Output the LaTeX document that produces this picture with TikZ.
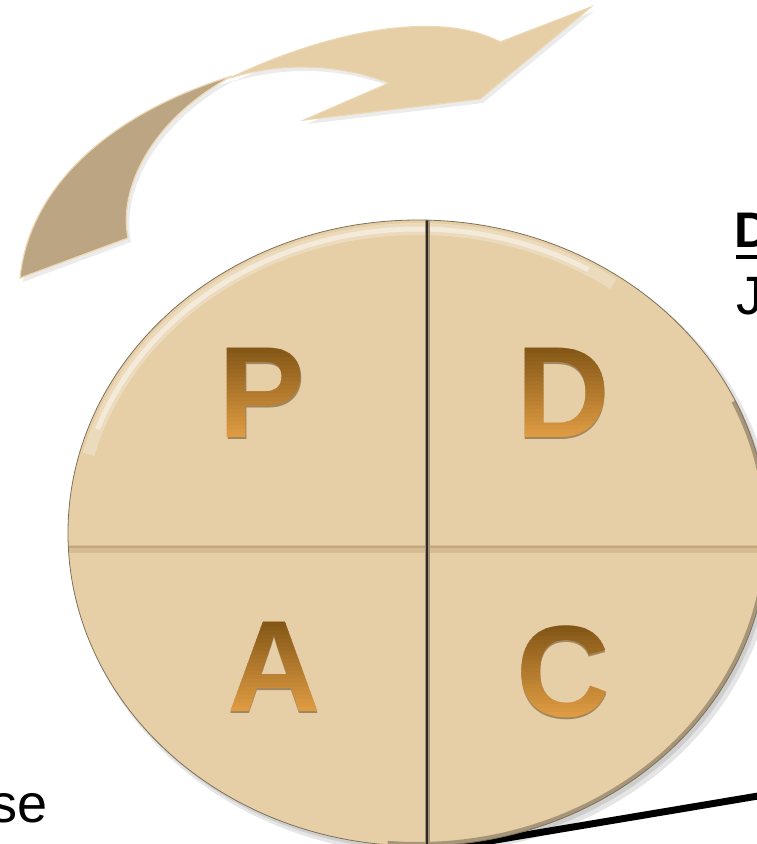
\documentclass[tikz,border=0pt]{standalone}
\usepackage{fontspec}
\setmainfont{Liberation Sans}
\usepackage{tikz}
\usetikzlibrary{calc}
\usepackage{xcolor}
\definecolor{disc}{HTML}{E6CEA6}
\definecolor{tailtan}{HTML}{BCA582}
\definecolor{rimtan}{HTML}{EBD7B2}
\definecolor{lettertop}{HTML}{7E5214}
\definecolor{letterbot}{HTML}{E6A146}
\definecolor{splitline}{HTML}{C2A67C}
\definecolor{axisline}{HTML}{2C2824}

\tikzset{
  bigletter/.style={font=\fontsize{130}{130}\selectfont\bfseries, inner sep=0pt},
  sidetext/.style={font=\fontsize{54}{60}\selectfont, inner sep=0pt, anchor=base west},
}

% letter shaded from dark top to light bottom, one band at a time
\newcommand{\pdcaletter}[3]{%
  \node[bigletter, text=lettertop!60!black, opacity=0.45] (#1s) at ($(#2)+(0.8,2)$) {#3};
  \foreach \k in {0,...,25}{
    \pgfmathsetmacro{\mix}{100-\k*100/25}
    \begin{scope}
      \clip ($(#2)+(-90,-52+\k*4)$) rectangle ++(180,4.4);
      \node[bigletter, text=lettertop!\mix!letterbot] (#1\k) at (#2) {#3};
    \end{scope}
  }}

\begin{document}
\begin{tikzpicture}[x=1pt,y=-1pt]
\useasboundingbox (0,0) rectangle (756,844);

% twisted loop arrow
\fill[black, opacity=0.08] (235,80) .. controls (123,114) and (33,184) .. (23,282) -- (131,242) .. controls (121,194) and (153,124) .. (235,80) -- cycle;
\fill[black, opacity=0.08] (233,82) .. controls (333,34) and (443,14) .. (503,46) -- (594,11) -- (483,103) -- (307,124) -- (392,87) .. controls (333,64) and (273,69) .. (233,82) -- cycle;
\filldraw[fill=tailtan, draw=rimtan, line width=1.2pt] (232,76) .. controls (120,110) and (30,180) .. (20,278) -- (128,238) .. controls (118,190) and (150,120) .. (232,76) -- cycle;
\filldraw[fill=disc, draw=rimtan, line width=1.2pt] (230,78) .. controls (330,30) and (440,10) .. (500,42) -- (591,7) -- (480,99) -- (304,120) -- (389,83) .. controls (330,60) and (270,65) .. (230,78) -- cycle;

% black line behind the disc
\coordinate (lineA) at (400,856);
\coordinate (lineB) at (764,795);
\draw[line width=7pt] (lineA) -- (lineB);

% disc
\coordinate (centre) at (418,533);
\fill[black, opacity=0.10] ($(centre)+(5,6)$) ellipse [x radius=352, y radius=315];
\fill[black, opacity=0.10] ($(centre)+(3,4)$) ellipse [x radius=350, y radius=313];
\fill[disc] (centre) ellipse [x radius=350, y radius=313];
\begin{scope}
  \clip (centre) ellipse [x radius=350, y radius=313];
  \draw[white, opacity=0.25, line width=12pt] ($(centre)+(195:341 and 304)$) arc[start angle=195, end angle=305, x radius=341, y radius=304];
  \draw[white, opacity=0.45, line width=5pt] ($(centre)+(200:341 and 304)$) arc[start angle=200, end angle=300, x radius=341, y radius=304];
  \draw[black!55!disc, opacity=0.5, line width=6pt] ($(centre)+(-25:349 and 312)$) arc[start angle=-25, end angle=95, x radius=349, y radius=312];
  \draw[splitline!45!disc, line width=8pt] (60,549) -- (780,549);
  \draw[splitline, line width=2.5pt] (60,547) -- (780,547);
  \draw[black!30!disc, line width=5pt] (427,210) -- (427,850);
  \draw[axisline, line width=1.8pt] (427,210) -- (427,850);
\end{scope}
\draw[disc!55!black, line width=0.8pt] (centre) ellipse [x radius=350, y radius=313];

% quadrant letters
\coordinate (pPos) at (262,393);
\coordinate (dPos) at (563,393);
\coordinate (aPos) at (274,667);
\coordinate (cPos) at (563,672);
\pdcaletter{plan}{pPos}{P}
\pdcaletter{do}{dPos}{D}
\pdcaletter{act}{aPos}{A}
\pdcaletter{check}{cPos}{C}

% side texts
\node[sidetext, font=\fontsize{50}{60}\selectfont\bfseries] (dohead) at (734,247) {D};
\draw[line width=4pt] ($(dohead.base west)+(2,10)$) -- ($(dohead.base east)+(0,10)$);
\node[sidetext] (dobody) at (736,314) {J};
\node[sidetext, anchor=base east] (actbody) at (48,822) {se};
\end{tikzpicture}
\end{document}
